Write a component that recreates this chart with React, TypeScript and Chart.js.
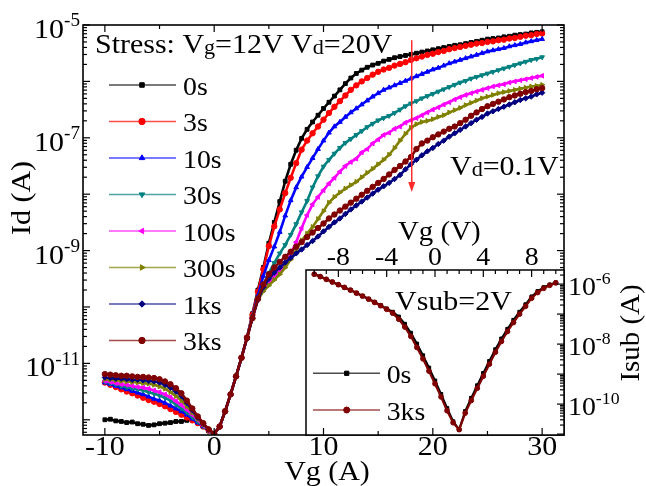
import React, { useEffect, useRef } from 'react';
import { Chart, registerables } from 'chart.js';
import { drawPoint } from 'chart.js/helpers';

Chart.register(...registerables);

const FONT = '"Liberation Serif", "Times New Roman", serif';

// ---------- main plot: Vg grid (x) ----------
const vg = [
  -10, -9.5, -9, -8.5, -8, -7.5, -7, -6.5, -6, -5.5,
  -5, -4.5, -4, -3.5, -3, -2.5, -2, -1.5, -1, -0.5,
  0,
  0.5, 1, 1.5, 2, 2.5, 3, 3.5, 4, 4.5, 5,
  5.5, 6, 6.5, 7, 7.5, 8, 8.5, 9, 9.5, 10,
  10.5, 11, 11.5, 12, 12.5, 13, 13.5, 14, 14.5, 15,
  15.5, 16, 16.5, 17, 17.5, 18, 18.5, 19, 19.5, 20,
  20.5, 21, 21.5, 22, 22.5, 23, 23.5, 24, 24.5, 25,
  25.5, 26, 26.5, 27, 27.5, 28, 28.5, 29, 29.5, 30,
];

// log10(Id / A) for each stress time
const logId0s = [
  -12.0, -11.99, -12.02, -12.03, -12.05, -12.04, -12.07, -12.08, -12.1, -12.09,
  -12.07, -12.06, -12.05, -12.03, -12.03, -12.01, -11.99, -12.04, -12.12, -12.2,
  -12.25,
  -12.12, -11.85, -11.55, -11.23, -10.9, -10.54, -10.12, -9.7, -9.3, -8.87,
  -8.5, -8.13, -7.77, -7.47, -7.22, -7.01, -6.85, -6.72, -6.6, -6.48,
  -6.37, -6.26, -6.15, -6.04, -5.94, -5.86, -5.8, -5.75, -5.71, -5.68,
  -5.64, -5.61, -5.58, -5.56, -5.54, -5.52, -5.5, -5.48, -5.46, -5.44,
  -5.42, -5.4, -5.38, -5.36, -5.35, -5.33, -5.31, -5.29, -5.27, -5.25,
  -5.24, -5.23, -5.21, -5.2, -5.18, -5.17, -5.16, -5.14, -5.13, -5.12,
];
const logId3s = [
  -11.34, -11.38, -11.42, -11.46, -11.5, -11.53, -11.57, -11.61, -11.65, -11.68,
  -11.72, -11.76, -11.81, -11.86, -11.91, -11.96, -12.01, -12.06, -12.12, -12.19,
  -12.25,
  -12.12, -11.85, -11.55, -11.23, -10.9, -10.54, -10.14, -9.73, -9.33, -8.92,
  -8.57, -8.27, -7.98, -7.71, -7.45, -7.21, -7.05, -6.92, -6.8, -6.68,
  -6.56, -6.45, -6.35, -6.25, -6.15, -6.07, -6.0, -5.94, -5.88, -5.83,
  -5.79, -5.76, -5.72, -5.69, -5.66, -5.62, -5.59, -5.56, -5.53, -5.51,
  -5.48, -5.46, -5.43, -5.41, -5.39, -5.37, -5.35, -5.33, -5.32, -5.3,
  -5.29, -5.27, -5.26, -5.24, -5.23, -5.21, -5.19, -5.18, -5.16, -5.15,
];
const logId10s = [
  -11.34, -11.37, -11.4, -11.43, -11.46, -11.49, -11.52, -11.55, -11.59, -11.63,
  -11.66, -11.7, -11.75, -11.8, -11.85, -11.91, -11.98, -12.05, -12.12, -12.19,
  -12.25,
  -12.12, -11.85, -11.55, -11.23, -10.9, -10.55, -10.17, -9.8, -9.45, -9.17,
  -8.93, -8.67, -8.38, -8.11, -7.88, -7.69, -7.52, -7.36, -7.2, -7.05,
  -6.91, -6.8, -6.72, -6.63, -6.55, -6.48, -6.41, -6.34, -6.27, -6.21,
  -6.15, -6.11, -6.07, -6.03, -5.99, -5.95, -5.91, -5.87, -5.83, -5.79,
  -5.76, -5.72, -5.68, -5.65, -5.62, -5.59, -5.56, -5.53, -5.5, -5.47,
  -5.45, -5.43, -5.41, -5.38, -5.36, -5.34, -5.31, -5.29, -5.27, -5.25,
];
const logId30s = [
  -11.32, -11.35, -11.37, -11.4, -11.42, -11.44, -11.46, -11.48, -11.51, -11.54,
  -11.57, -11.61, -11.66, -11.73, -11.8, -11.87, -11.95, -12.03, -12.11, -12.19,
  -12.25,
  -12.12, -11.85, -11.55, -11.23, -10.9, -10.55, -10.18, -9.84, -9.6, -9.4,
  -9.22, -9.05, -8.9, -8.72, -8.53, -8.32, -8.12, -7.88, -7.68, -7.51,
  -7.39, -7.28, -7.18, -7.09, -7.02, -6.95, -6.88, -6.81, -6.75, -6.69,
  -6.65, -6.61, -6.56, -6.5, -6.44, -6.39, -6.35, -6.3, -6.26, -6.22,
  -6.18, -6.14, -6.1, -6.06, -6.02, -5.99, -5.95, -5.92, -5.89, -5.86,
  -5.83, -5.8, -5.77, -5.74, -5.71, -5.68, -5.65, -5.62, -5.6, -5.57,
];
const logId100s = [
  -11.31, -11.33, -11.35, -11.37, -11.38, -11.4, -11.42, -11.43, -11.45, -11.48,
  -11.51, -11.55, -11.6, -11.67, -11.74, -11.82, -11.91, -12.0, -12.1, -12.19,
  -12.25,
  -12.12, -11.85, -11.55, -11.23, -10.9, -10.55, -10.19, -9.87, -9.7, -9.58,
  -9.47, -9.37, -9.25, -9.06, -8.85, -8.6, -8.37, -8.18, -8.05, -7.93,
  -7.81, -7.71, -7.6, -7.5, -7.43, -7.37, -7.26, -7.2, -7.1, -7.03,
  -6.95, -6.91, -6.84, -6.8, -6.73, -6.69, -6.65, -6.6, -6.55, -6.5,
  -6.46, -6.41, -6.37, -6.32, -6.28, -6.24, -6.21, -6.18, -6.15, -6.12,
  -6.09, -6.07, -6.05, -6.02, -6.0, -5.98, -5.96, -5.94, -5.92, -5.9,
];
const logId300s = [
  -11.28, -11.29, -11.3, -11.31, -11.32, -11.33, -11.34, -11.35, -11.36, -11.38,
  -11.41, -11.45, -11.51, -11.58, -11.66, -11.76, -11.87, -11.98, -12.08, -12.18,
  -12.25,
  -12.12, -11.85, -11.55, -11.23, -10.9, -10.55, -10.19, -9.88, -9.72, -9.62,
  -9.52, -9.42, -9.3, -9.16, -9.0, -8.82, -8.7, -8.58, -8.44, -8.3,
  -8.15, -8.05, -7.97, -7.9, -7.84, -7.78, -7.7, -7.62, -7.55, -7.47,
  -7.39, -7.3, -7.18, -7.05, -6.93, -6.82, -6.76, -6.72, -6.7, -6.67,
  -6.63, -6.6, -6.55, -6.51, -6.47, -6.42, -6.38, -6.34, -6.3, -6.27,
  -6.24, -6.21, -6.19, -6.17, -6.15, -6.13, -6.11, -6.09, -6.08, -6.06,
];
const logId1ks = [
  -11.25, -11.26, -11.27, -11.27, -11.28, -11.29, -11.29, -11.3, -11.31, -11.32,
  -11.34, -11.38, -11.43, -11.5, -11.58, -11.7, -11.83, -11.96, -12.07, -12.17,
  -12.25,
  -12.12, -11.85, -11.55, -11.23, -10.9, -10.55, -10.2, -9.87, -9.65, -9.5,
  -9.39, -9.3, -9.21, -9.13, -9.05, -8.98, -8.9, -8.83, -8.75, -8.66,
  -8.58, -8.5, -8.43, -8.35, -8.27, -8.2, -8.13, -8.06, -7.99, -7.92,
  -7.86, -7.8, -7.73, -7.66, -7.56, -7.47, -7.39, -7.31, -7.24, -7.18,
  -7.11, -7.05, -6.98, -6.92, -6.86, -6.8, -6.74, -6.68, -6.63, -6.57,
  -6.53, -6.49, -6.45, -6.41, -6.37, -6.33, -6.3, -6.27, -6.23, -6.2,
];
const logId3ks = [
  -11.19, -11.2, -11.21, -11.22, -11.22, -11.23, -11.24, -11.24, -11.25, -11.26,
  -11.28, -11.32, -11.37, -11.44, -11.53, -11.66, -11.8, -11.94, -12.06, -12.17,
  -12.25,
  -12.12, -11.85, -11.55, -11.23, -10.9, -10.55, -10.2, -9.85, -9.6, -9.42,
  -9.3, -9.2, -9.11, -9.02, -8.93, -8.85, -8.76, -8.68, -8.6, -8.52,
  -8.43, -8.36, -8.29, -8.22, -8.15, -8.08, -8.01, -7.94, -7.87, -7.8,
  -7.73, -7.65, -7.57, -7.5, -7.42, -7.34, -7.2, -7.1, -7.05, -6.99,
  -6.94, -6.89, -6.84, -6.8, -6.74, -6.68, -6.61, -6.55, -6.49, -6.44,
  -6.4, -6.36, -6.32, -6.28, -6.25, -6.22, -6.19, -6.17, -6.14, -6.12,
];

const seriesLabels = ['0s', '3s', '10s', '30s', '100s', '300s', '1ks', '3ks'];
const seriesLogs = [logId0s, logId3s, logId10s, logId30s, logId100s, logId300s, logId1ks, logId3ks];
const seriesColors = ['#000000', '#ff0000', '#0000ff', '#008080', '#ff00ff', '#808000', '#000080', '#800000'];
const seriesMarkers = ['rect', 'circle', 'triangle', 'triangle', 'triangle', 'triangle', 'rectRot', 'circle'];
const seriesRotation = [0, 0, 0, 180, 270, 90, 0, 0];

// ---------- inset: Isub vs Vg ----------
const vgInset = [
  -10, -9.5, -9, -8.5, -8, -7.5, -7, -6.5, -6, -5.5,
  -5, -4.5, -4, -3.5, -3, -2.5, -2, -1.5, -1, -0.5,
  0, 0.5, 1, 1.5, 2, 2.5, 3, 3.5, 4, 4.5,
  5, 5.5, 6, 6.5, 7, 7.5, 8, 8.5, 9, 9.5,
  10,
];
const logIsub0s = [
  -5.67, -5.75, -5.84, -5.93, -6.02, -6.11, -6.2, -6.3, -6.4, -6.5,
  -6.6, -6.71, -6.82, -6.93, -7.09, -7.33, -7.63, -7.99, -8.38, -8.79,
  -9.22, -9.67, -10.14, -10.58, -10.85, -10.24, -9.8, -9.38, -8.97, -8.57,
  -8.18, -7.82, -7.5, -7.2, -6.93, -6.68, -6.42, -6.24, -6.11, -6.02,
  -5.95,
];
const logIsub3ks = [
  -5.67, -5.75, -5.84, -5.93, -6.02, -6.11, -6.2, -6.3, -6.4, -6.5,
  -6.61, -6.72, -6.84, -6.97, -7.17, -7.43, -7.74, -8.11, -8.49, -8.9,
  -9.32, -9.76, -10.22, -10.62, -10.85, -10.3, -9.88, -9.47, -9.07, -8.67,
  -8.27, -7.91, -7.58, -7.28, -7.0, -6.74, -6.47, -6.28, -6.14, -6.04,
  -5.96,
];
const insetLabels = ['0s', '3ks'];
const insetLogs = [logIsub0s, logIsub3ks];
const insetColors = ['#000000', '#800000'];
const insetMarkers = ['rect', 'circle'];

// ---------- axes / ticks ----------
const mainXRange = [-12, 32];
const mainYExpRange = [-12.27, -5];
const mainXTickLabels = [-10, 0, 10, 20, 30];
const mainXMinorTicks = [-5, 5, 15, 25];
const mainYLabelExps = [-5, -7, -9, -11];
const insetXRange = [-10.68, 10.68];
const insetYExpRange = [-11.03, -5.53];
const insetXTickLabels = [-8, -4, 0, 4, 8];
const insetYLabelExps = [-6, -8, -10];

// arrow annotation (data coordinates)
const arrowVg = 18.07;
const arrowFromExp = -5.27;
const arrowToExp = -7.96;

type Seg = { t: string; k?: 'sub' | 'sup' };

function richText(
  ctx: CanvasRenderingContext2D,
  segs: Seg[],
  x: number,
  y: number,
  size: number,
  align: 'left' | 'center' | 'right' = 'left',
  rot = 0,
  sx = 1.07
) {
  ctx.save();
  ctx.translate(x, y);
  if (rot) ctx.rotate(rot);
  ctx.scale(sx, 1);
  ctx.fillStyle = '#000';
  ctx.textAlign = 'left';
  ctx.textBaseline = 'alphabetic';
  const f = (k?: string) =>
    `${k === 'sup' ? size * 0.64 : k === 'sub' ? size * 0.74 : size}px ${FONT}`;
  let w = 0;
  for (const s of segs) {
    ctx.font = f(s.k);
    w += ctx.measureText(s.t).width;
  }
  let cx = align === 'left' ? 0 : align === 'center' ? -w / 2 : -w;
  for (const s of segs) {
    ctx.font = f(s.k);
    const dy = s.k === 'sup' ? -size * 0.42 : s.k === 'sub' ? size * 0.04 : 0;
    ctx.fillText(s.t, cx, dy);
    cx += ctx.measureText(s.t).width;
  }
  ctx.restore();
}

function line(ctx: CanvasRenderingContext2D, x1: number, y1: number, x2: number, y2: number) {
  ctx.beginPath();
  ctx.moveTo(x1, y1);
  ctx.lineTo(x2, y2);
  ctx.stroke();
}

function logTicks(lo: number, hi: number) {
  const major: number[] = [];
  const minor: number[] = [];
  for (let e = Math.floor(lo) - 1; e <= Math.ceil(hi); e++) {
    if (e >= lo && e <= hi) major.push(e);
    for (let m = 2; m <= 9; m++) {
      const l = e + Math.log10(m);
      if (l >= lo && l <= hi) minor.push(l);
    }
  }
  return { major, minor };
}

const MAJ = 7;
const MIN = 4;

const INSET_LEFT = 300;
const INSET_TOP = 200;

export default function App() {
  const mainRef = useRef<HTMLCanvasElement>(null);
  const insetRef = useRef<HTMLCanvasElement>(null);

  useEffect(() => {
    if (!mainRef.current || !insetRef.current) return;

    const mainDeco = {
      id: 'mainDeco',
      afterDraw(chart: any) {
        const { ctx, chartArea: a } = chart;
        const xs = chart.scales.x;
        const ys = chart.scales.y;
        ctx.save();
        ctx.strokeStyle = '#000';
        ctx.lineWidth = 1.2;
        for (const v of mainXTickLabels) {
          const px = xs.getPixelForValue(v);
          line(ctx, px, a.bottom, px, a.bottom - MAJ);
          line(ctx, px, a.top, px, a.top + MAJ);
        }
        for (const v of mainXMinorTicks) {
          const px = xs.getPixelForValue(v);
          line(ctx, px, a.bottom, px, a.bottom - MIN);
          line(ctx, px, a.top, px, a.top + MIN);
        }
        const lt = logTicks(mainYExpRange[0], mainYExpRange[1]);
        for (const e of lt.major) {
          const py = ys.getPixelForValue(Math.pow(10, e));
          line(ctx, a.left, py, a.left + MAJ, py);
          line(ctx, a.right, py, a.right - MAJ, py);
        }
        for (const e of lt.minor) {
          const py = ys.getPixelForValue(Math.pow(10, e));
          line(ctx, a.left, py, a.left + MIN, py);
          line(ctx, a.right, py, a.right - MIN, py);
        }
        ctx.lineWidth = 1.6;
        ctx.strokeRect(a.left, a.top, a.right - a.left, a.bottom - a.top);

        for (const v of mainXTickLabels) {
          const px = xs.getPixelForValue(v);
          richText(ctx, [{ t: String(v) }], px, a.bottom + 20, 28, 'center');
        }
        for (const e of mainYLabelExps) {
          const py = ys.getPixelForValue(Math.pow(10, e));
          richText(ctx, [{ t: '10' }, { t: String(e), k: 'sup' }], a.left - 3, py + 13, 28, 'right');
        }
        richText(ctx, [{ t: 'Vg (A)' }], 327, 480, 28, 'center');
        richText(ctx, [{ t: 'Id (A)' }], 30, 198, 28, 'center', -Math.PI / 2);

        richText(
          ctx,
          [{ t: 'Stress: V' }, { t: 'g', k: 'sub' }, { t: '=12V V' }, { t: 'd', k: 'sub' }, { t: '=20V' }],
          95, 53, 28, 'left'
        );
        richText(ctx, [{ t: 'V' }, { t: 'd', k: 'sub' }, { t: '=0.1V' }], 450, 175, 28, 'left');

        const ax = xs.getPixelForValue(arrowVg);
        const ay1 = ys.getPixelForValue(Math.pow(10, arrowFromExp));
        const ay2 = ys.getPixelForValue(Math.pow(10, arrowToExp));
        ctx.strokeStyle = '#ff2a2a';
        ctx.fillStyle = '#ff2a2a';
        ctx.lineWidth = 1.5;
        line(ctx, ax, ay1, ax, ay2 - 8);
        ctx.beginPath();
        ctx.moveTo(ax - 3.5, ay2 - 10);
        ctx.lineTo(ax + 3.5, ay2 - 10);
        ctx.lineTo(ax, ay2);
        ctx.closePath();
        ctx.fill();

        chart.data.datasets.forEach((ds: any, i: number) => {
          const y = 85 + i * 36.5;
          ctx.save();
          ctx.globalAlpha = 0.7;
          ctx.strokeStyle = ds.borderColor;
          ctx.lineWidth = 1.5;
          line(ctx, 109, y, 176, y);
          ctx.restore();
          ctx.fillStyle = ds.borderColor;
          ctx.strokeStyle = ds.borderColor;
          ctx.lineWidth = 1;
          drawPoint(ctx, { pointStyle: ds.pointStyle, rotation: ds.pointRotation, radius: 3.2, borderWidth: 1 } as any, 142, y);
          richText(ctx, [{ t: ds.label }], 183, y + 9.5, 26, 'left');
        });
        ctx.restore();
      },
    };

    const main = new Chart(mainRef.current, {
      type: 'line',
      data: {
        datasets: seriesLabels.map((label, i) => ({
          label,
          data: vg.map((x, j) => ({ x, y: Math.pow(10, seriesLogs[i][j]) })),
          borderColor: seriesColors[i],
          backgroundColor: seriesColors[i],
          borderWidth: 2.6,
          pointStyle: seriesMarkers[i] as any,
          pointRotation: seriesRotation[i],
          pointRadius: 2.7,
          pointBorderWidth: 1,
          tension: 0,
          order: seriesLabels.length - 1 - i,
        })),
      },
      options: {
        animation: false,
        responsive: false,
        events: [],
        layout: { padding: { left: 83, top: 25, right: 82, bottom: 51 } },
        scales: {
          x: { type: 'linear', min: mainXRange[0], max: mainXRange[1], display: false },
          y: {
            type: 'logarithmic',
            min: Math.pow(10, mainYExpRange[0]),
            max: Math.pow(10, mainYExpRange[1]),
            display: false,
          },
        },
        plugins: { legend: { display: false }, tooltip: { enabled: false } },
      },
      plugins: [mainDeco],
    } as any);

    const insetDeco = {
      id: 'insetDeco',
      beforeDatasetsDraw(chart: any) {
        const { ctx, chartArea: a } = chart;
        ctx.save();
        ctx.fillStyle = '#fff';
        ctx.fillRect(a.left, a.top, a.right - a.left, a.bottom - a.top);
        ctx.restore();
      },
      afterDraw(chart: any) {
        const { ctx, chartArea: a } = chart;
        const xs = chart.scales.x;
        const ys = chart.scales.y;
        const ox = INSET_LEFT;
        const oy = INSET_TOP;
        ctx.save();
        ctx.strokeStyle = '#000';
        ctx.lineWidth = 1.2;
        for (let v = -10; v <= 10; v++) {
          const px = xs.getPixelForValue(v);
          const len = insetXTickLabels.includes(v) ? MAJ : MIN;
          line(ctx, px, a.top, px, a.top + len);
        }
        const lt = logTicks(insetYExpRange[0], insetYExpRange[1]);
        for (const e of lt.major) {
          const py = ys.getPixelForValue(Math.pow(10, e));
          line(ctx, a.right, py, a.right - MAJ, py);
        }
        for (const e of lt.minor) {
          const py = ys.getPixelForValue(Math.pow(10, e));
          line(ctx, a.right, py, a.right - MIN, py);
        }
        const mx = main.scales.x;
        for (const v of [...mainXTickLabels, ...mainXMinorTicks]) {
          const px = mx.getPixelForValue(v) - ox;
          if (px <= a.left + 1 || px >= a.right - 1) continue;
          const len = mainXTickLabels.includes(v) ? MAJ : MIN;
          line(ctx, px, a.bottom, px, a.bottom - len);
        }
        ctx.lineWidth = 1.5;
        ctx.strokeRect(a.left, a.top, a.right - a.left, a.bottom - a.top);

        for (const v of insetXTickLabels) {
          const px = xs.getPixelForValue(v);
          richText(ctx, [{ t: String(v) }], px, 265 - oy, 26, 'center');
        }
        for (const e of insetYLabelExps) {
          const py = ys.getPixelForValue(Math.pow(10, e));
          richText(ctx, [{ t: '10' }, { t: String(e), k: 'sup' }], a.right + 4, py + 11, 26, 'left');
        }
        richText(ctx, [{ t: 'Vg (V)' }], 398 - ox, 240 - oy, 27, 'left');
        richText(ctx, [{ t: 'Isub (A)' }], 639 - ox, 333 - oy, 27, 'center', -Math.PI / 2);
        richText(ctx, [{ t: 'Vsub=2V' }], 395 - ox, 310 - oy, 28, 'left');

        chart.data.datasets.forEach((ds: any, i: number) => {
          const y = 373.3 + i * 36.7 - oy;
          ctx.save();
          ctx.globalAlpha = 0.7;
          ctx.strokeStyle = ds.borderColor;
          ctx.lineWidth = 1.5;
          line(ctx, 313 - ox, y, 380 - ox, y);
          ctx.restore();
          ctx.fillStyle = ds.borderColor;
          ctx.strokeStyle = ds.borderColor;
          ctx.lineWidth = 1;
          drawPoint(ctx, { pointStyle: ds.pointStyle, rotation: 0, radius: 3.0, borderWidth: 1 } as any, 346.7 - ox, y);
          richText(ctx, [{ t: ds.label }], 386.7 - ox, y + 9.5, 26, 'left');
        });
        ctx.restore();
      },
    };

    const inset = new Chart(insetRef.current, {
      type: 'line',
      data: {
        datasets: insetLabels.map((label, i) => ({
          label,
          data: vgInset.map((x, j) => ({ x, y: Math.pow(10, insetLogs[i][j]) })),
          borderColor: insetColors[i],
          backgroundColor: insetColors[i],
          borderWidth: 2.2,
          pointStyle: insetMarkers[i] as any,
          pointRadius: 2.4,
          pointBorderWidth: 1,
          tension: 0,
          order: insetLabels.length - 1 - i,
        })),
      },
      options: {
        animation: false,
        responsive: false,
        events: [],
        layout: { padding: { left: 6, top: 70, right: 82, bottom: 51 } },
        scales: {
          x: { type: 'linear', min: insetXRange[0], max: insetXRange[1], display: false },
          y: {
            type: 'logarithmic',
            min: Math.pow(10, insetYExpRange[0]),
            max: Math.pow(10, insetYExpRange[1]),
            display: false,
          },
        },
        plugins: { legend: { display: false }, tooltip: { enabled: false } },
      },
      plugins: [insetDeco],
    } as any);

    return () => {
      inset.destroy();
      main.destroy();
    };
  }, []);

  return (
    <div style={{ position: 'absolute', left: 0, top: 0, width: 646, height: 486, background: '#fff' }}>
      <canvas
        ref={mainRef}
        width={646}
        height={486}
        style={{ position: 'absolute', left: 0, top: 0, width: 646, height: 486, display: 'block' }}
      />
      <canvas
        ref={insetRef}
        width={346}
        height={286}
        style={{ position: 'absolute', left: INSET_LEFT, top: INSET_TOP, width: 346, height: 286, display: 'block' }}
      />
    </div>
  );
}
